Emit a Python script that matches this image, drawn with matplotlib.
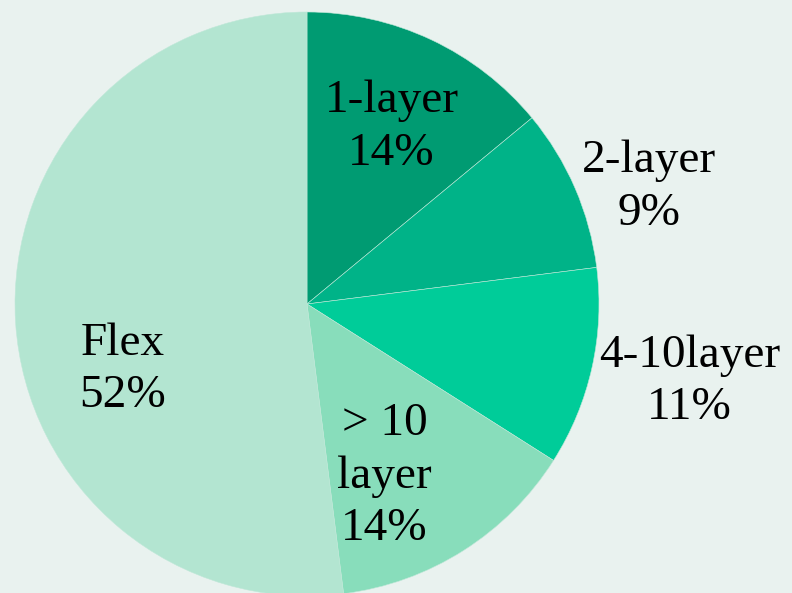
import matplotlib.pyplot as plt

# data
labels = ['1-layer', '2-layer', '4-10layer', '> 10\nlayer', 'Flex']
shares = [14, 9, 11, 14, 52]
colors = ['#009B72', '#00B388', '#00CC99', '#88DDBB', '#B3E5D1']

# label placement (pie radius = 1, centre at 0,0)
label_pos = [(0.29, 0.605), (1.17, 0.40), (1.31, -0.265), (0.265, -0.59), (-0.63, -0.225)]

bg = '#E9F2EF'
plt.rcParams['font.family'] = ['Liberation Serif', 'DejaVu Serif']

fig = plt.figure(figsize=(7.92, 5.93), dpi=100, facecolor=bg)
ax = fig.add_axes([0, 0, 1, 1])
ax.set_facecolor(bg)

ax.pie(shares, colors=colors, startangle=90, counterclock=False,
       wedgeprops=dict(edgecolor='#BFE8D8', linewidth=0.4))

for lab, val, (x, y) in zip(labels, shares, label_pos):
    ax.text(x, y, f'{lab}\n{val}%', ha='center', va='center',
            fontsize=34, linespacing=1.3, color='black')

ax.set_xlim(-307 / 292, 485 / 292)
ax.set_ylim(-289 / 292, 304 / 292)
ax.set_aspect('auto')
ax.axis('off')

fig.savefig('out.png', dpi=100, facecolor=bg)
